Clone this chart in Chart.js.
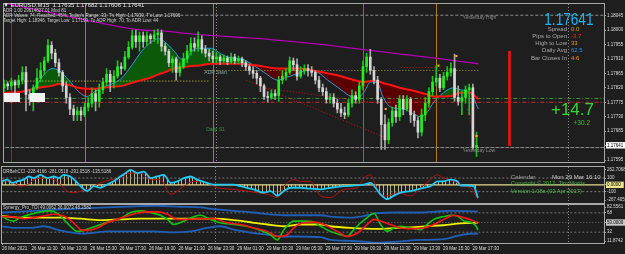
<!DOCTYPE html>
<html>
<head>
<meta charset="utf-8">
<title>EURUSD M15</title>
<script src="https://cdn.jsdelivr.net/npm/chart.js@4.4.1/dist/chart.umd.min.js"></script>
<style>
  html, body { margin: 0; padding: 0; background: #1e1e1e; }
  #wrap { position: relative; width: 625px; height: 254px; overflow: hidden; font-family: 'Liberation Sans', Arial, sans-serif; }
  #wrap canvas { position: absolute; left: 0; }
  .t { position: absolute; white-space: nowrap; line-height: 1; }
  .lab { font-size: 6px; color: #a8a8a8; }
  .val { font-size: 6px; left: 571px; }
  .box { position: absolute; background: #f2f2f2; }
</style>
</head>
<body>
<div id="wrap">
  <canvas id="main" width="625" height="166" style="top:0"></canvas>
  <canvas id="cci" width="625" height="38" style="top:166px"></canvas>
  <canvas id="syn" width="625" height="50" style="top:204px"></canvas>

  <div class="box" style="left:4px;top:93px;width:16px;height:9px"></div>
  <div class="box" style="left:30px;top:93px;width:15px;height:9px"></div>

  <div class="t" style="left:3px;top:2px;font-size:6px;color:#e6e6e6">▼ EURUSD,M15&nbsp; 1.17635 1.17682 1.17606 1.17641</div>
  <div class="t" style="left:3px;top:8.5px;font-size:4.5px;color:#d0d0d0">ADR 1.00 29614827.01 Mod 81</div>
  <div class="t" style="left:3px;top:13.5px;font-size:4.5px;color:#d0d0d0">ADR Values: 74, Reached: 45%, Today's Range: 33, T's High: 1.17939, T's Low: 1.17606</div>
  <div class="t" style="left:3px;top:19px;font-size:4.5px;color:#d0d0d0">Target High: 1.18346, Target Low: 1.17199, To ADR High: 70, To ADR Low: 44</div>

  <div class="t" style="right:32px;top:11px;font-size:17px;color:#1fb4f0;transform:scaleX(0.8);transform-origin:right">1.17641</div>
  <div class="t lab" style="right:58px;top:25.7px">Spread</div>
  <div class="t val" style="top:25.7px;color:#d9a21b">0.0</div>
  <div class="t lab" style="right:58px;top:32.7px">Pips to Open</div>
  <div class="t val" style="top:32.7px;color:#ff2a2a">-3.7</div>
  <div class="t lab" style="right:58px;top:40px">High to Low</div>
  <div class="t val" style="top:40px;color:#d9a21b">33</div>
  <div class="t lab" style="right:58px;top:47.4px">Daily Avg</div>
  <div class="t val" style="top:47.4px;color:#1e90ff">62.5</div>
  <div class="t lab" style="right:58px;top:55px">Bar Closes In</div>
  <div class="t val" style="top:55px;color:#ff8c00">4:6</div>
  <div class="t" style="right:31px;top:101px;font-size:17px;color:#37d437">+14.7</div>
  <div class="t" style="right:35px;top:119.5px;font-size:6.5px;color:#37c437">+30.2</div>

  <div class="t" style="left:3px;top:169.5px;font-size:4.5px;color:#cfcfcf">DRBehCCI -228.4166 -281.0518 -291.0518 -135.5186</div>
  <div class="t" style="left:511px;top:173.7px;font-size:6px;color:#a0a0a0">Calendar</div>
  <div class="t" style="left:552px;top:173.7px;font-size:6px;color:#c8c8c8">Mon 29 Mar 16:10</div>
  <div class="t" style="left:511px;top:181.2px;font-size:5.7px;color:#4cb84c">Copyright © 2012, Tim Morris</div>
  <div class="t" style="left:511px;top:188.8px;font-size:5.7px;color:#4cb84c">Version 1.08a (02 Apr 2017)</div>
  <div class="t" style="left:3px;top:206.3px;font-size:4.5px;color:#cfcfcf">Synergy_Pro_TDI 49.0062 36.0073 48.2582</div>
</div>

<script>
// EURUSD M15, bar 0 = 26 Mar 09:30, bar 58 = 29 Mar 00:00
const opens = [
  1.17820, 1.17832, 1.17826, 1.17838, 1.17829, 1.17844, 1.17868, 1.17799, 1.17784, 1.17820,
  1.17850, 1.17874, 1.17904, 1.17952, 1.17928, 1.17898, 1.17868, 1.17826, 1.17790, 1.17754,
  1.17736, 1.17748, 1.17736, 1.17760, 1.17772, 1.17802, 1.17778, 1.17814, 1.17838, 1.17862,
  1.17838, 1.17856, 1.17886, 1.17880, 1.17916, 1.17946, 1.17982, 1.17964, 1.17982, 1.17964,
  1.17982, 1.17973, 1.17985, 1.17991, 1.17949, 1.17934, 1.17898, 1.17910, 1.17868, 1.17886,
  1.17910, 1.17934, 1.17958, 1.17946, 1.17970, 1.17940, 1.17928, 1.17919, 1.17910, 1.17916,
  1.17904, 1.17913, 1.17901, 1.17916, 1.17904, 1.17910, 1.17898, 1.17886, 1.17874, 1.17865,
  1.17850, 1.17826, 1.17793, 1.17790, 1.17802, 1.17796, 1.17844, 1.17856, 1.17868, 1.17904,
  1.17892, 1.17856, 1.17874, 1.17880, 1.17874, 1.17868, 1.17844, 1.17820, 1.17808, 1.17784,
  1.17790, 1.17772, 1.17754, 1.17742, 1.17736, 1.17772, 1.17796, 1.17784, 1.17826, 1.17886,
  1.17916, 1.17874, 1.17844, 1.17784, 1.17706, 1.17658, 1.17712, 1.17748, 1.17730, 1.17784,
  1.17754, 1.17784, 1.17736, 1.17718, 1.17682, 1.17736, 1.17772, 1.17808, 1.17838, 1.17850,
  1.17820, 1.17856, 1.17868, 1.17880, 1.17790, 1.17778, 1.17790, 1.17814, 1.17820, 1.17635
];
const highs = [
  1.17844, 1.17838, 1.17850, 1.17844, 1.17859, 1.17886, 1.17886, 1.17814, 1.17829, 1.17880,
  1.17898, 1.17916, 1.17970, 1.17964, 1.17940, 1.17910, 1.17874, 1.17838, 1.17802, 1.17766,
  1.17760, 1.17760, 1.17772, 1.17790, 1.17820, 1.17814, 1.17832, 1.17850, 1.17880, 1.17874,
  1.17874, 1.17904, 1.17898, 1.17934, 1.17964, 1.18000, 1.18000, 1.17994, 1.17994, 1.17994,
  1.17988, 1.18000, 1.18003, 1.18000, 1.17958, 1.17940, 1.17919, 1.17916, 1.17898, 1.17928,
  1.17952, 1.17976, 1.17976, 1.17994, 1.17982, 1.17952, 1.17940, 1.17934, 1.17928, 1.17922,
  1.17922, 1.17919, 1.17928, 1.17925, 1.17919, 1.17916, 1.17904, 1.17892, 1.17886, 1.17874,
  1.17856, 1.17832, 1.17808, 1.17814, 1.17814, 1.17856, 1.17874, 1.17880, 1.17916, 1.17913,
  1.17910, 1.17886, 1.17892, 1.17892, 1.17886, 1.17874, 1.17856, 1.17832, 1.17820, 1.17802,
  1.17802, 1.17784, 1.17772, 1.17760, 1.17784, 1.17814, 1.17808, 1.17838, 1.17904, 1.17928,
  1.17940, 1.17886, 1.17856, 1.17790, 1.17736, 1.17724, 1.17760, 1.17766, 1.17796, 1.17796,
  1.17796, 1.17790, 1.17748, 1.17730, 1.17754, 1.17790, 1.17820, 1.17856, 1.17889, 1.17862,
  1.17868, 1.17886, 1.17898, 1.17925, 1.17826, 1.17808, 1.17826, 1.17832, 1.17832, 1.17682
];
const lows = [
  1.17808, 1.17814, 1.17814, 1.17799, 1.17820, 1.17832, 1.17748, 1.17766, 1.17748, 1.17814,
  1.17838, 1.17862, 1.17898, 1.17910, 1.17886, 1.17856, 1.17808, 1.17772, 1.17736, 1.17718,
  1.17718, 1.17718, 1.17730, 1.17748, 1.17760, 1.17748, 1.17760, 1.17802, 1.17826, 1.17808,
  1.17820, 1.17850, 1.17862, 1.17874, 1.17910, 1.17940, 1.17946, 1.17934, 1.17946, 1.17952,
  1.17958, 1.17964, 1.17958, 1.17934, 1.17922, 1.17886, 1.17868, 1.17844, 1.17856, 1.17880,
  1.17898, 1.17922, 1.17934, 1.17934, 1.17928, 1.17916, 1.17904, 1.17898, 1.17898, 1.17892,
  1.17898, 1.17892, 1.17895, 1.17895, 1.17895, 1.17886, 1.17874, 1.17862, 1.17850, 1.17832,
  1.17808, 1.17784, 1.17775, 1.17784, 1.17784, 1.17778, 1.17832, 1.17844, 1.17862, 1.17874,
  1.17844, 1.17850, 1.17862, 1.17856, 1.17856, 1.17832, 1.17808, 1.17796, 1.17772, 1.17772,
  1.17760, 1.17742, 1.17730, 1.17724, 1.17730, 1.17760, 1.17772, 1.17772, 1.17814, 1.17868,
  1.17862, 1.17832, 1.17772, 1.17628, 1.17628, 1.17646, 1.17700, 1.17712, 1.17718, 1.17736,
  1.17748, 1.17712, 1.17700, 1.17664, 1.17670, 1.17718, 1.17760, 1.17796, 1.17826, 1.17808,
  1.17814, 1.17844, 1.17856, 1.17778, 1.17766, 1.17736, 1.17772, 1.17736, 1.17628, 1.17606
];
const closes = [
  1.17832, 1.17826, 1.17838, 1.17829, 1.17844, 1.17868, 1.17799, 1.17784, 1.17820, 1.17850,
  1.17874, 1.17904, 1.17952, 1.17928, 1.17898, 1.17868, 1.17826, 1.17790, 1.17754, 1.17736,
  1.17748, 1.17736, 1.17760, 1.17772, 1.17802, 1.17778, 1.17814, 1.17838, 1.17862, 1.17838,
  1.17856, 1.17886, 1.17880, 1.17916, 1.17946, 1.17982, 1.17964, 1.17982, 1.17964, 1.17982,
  1.17973, 1.17985, 1.17991, 1.17949, 1.17934, 1.17898, 1.17910, 1.17868, 1.17886, 1.17910,
  1.17934, 1.17958, 1.17946, 1.17970, 1.17940, 1.17928, 1.17919, 1.17910, 1.17916, 1.17904,
  1.17913, 1.17901, 1.17916, 1.17904, 1.17910, 1.17898, 1.17886, 1.17874, 1.17865, 1.17850,
  1.17826, 1.17793, 1.17790, 1.17802, 1.17796, 1.17844, 1.17856, 1.17868, 1.17904, 1.17892,
  1.17856, 1.17874, 1.17880, 1.17874, 1.17868, 1.17844, 1.17820, 1.17808, 1.17784, 1.17790,
  1.17772, 1.17754, 1.17742, 1.17736, 1.17772, 1.17796, 1.17784, 1.17826, 1.17886, 1.17916,
  1.17874, 1.17844, 1.17784, 1.17706, 1.17658, 1.17712, 1.17748, 1.17730, 1.17784, 1.17754,
  1.17784, 1.17736, 1.17718, 1.17682, 1.17736, 1.17772, 1.17808, 1.17838, 1.17850, 1.17820,
  1.17856, 1.17868, 1.17880, 1.17790, 1.17778, 1.17790, 1.17814, 1.17820, 1.17635, 1.17641
];

const timeTickBars = [0, 8, 16, 24, 32, 40, 48, 56, 64, 72, 80, 88, 96, 104, 112, 120, 128];
const timeLabels = ['26 Mar 2021', '26 Mar 11:30', '26 Mar 13:30', '26 Mar 15:30', '26 Mar 17:30',
  '26 Mar 19:30', '26 Mar 21:30', '26 Mar 23:30', '29 Mar 01:30', '29 Mar 03:30', '29 Mar 05:30',
  '29 Mar 07:30', '29 Mar 09:30', '29 Mar 11:30', '29 Mar 13:30', '29 Mar 15:30', '29 Mar 17:30'];
const priceTicks = [1.18045, 1.18000, 1.17955, 1.17910, 1.17865, 1.17820, 1.17775, 1.17730, 1.17685, 1.17641, 1.17595];
const lastPriceTick = 9;

// moving averages (sampled along the bars)
const maBars = [0, 4.9, 8.2, 11.2, 13.1, 15.0, 17.7, 20.4, 22.6, 24.8,
  26.7, 29.4, 32.1, 34.8, 37.6, 40.3, 42.2, 43.8, 46.5, 48.4,
  49.8, 51.2, 53.1, 56.6, 59.3, 62.0, 64.8, 67.5, 71.0, 74.8,
  76.5, 80.3, 83.0, 85.7, 88.4, 92.0, 94.7, 96.6, 98.2, 100.1,
  102.0, 103.4, 105.6, 109.1, 111.8, 113.7, 115.6, 117.3, 120.0, 122.7,
  124.6, 127.3, 129.5];
const maFast = [1.17802, 1.17808, 1.17820, 1.17865, 1.17880, 1.17874, 1.17844, 1.17808, 1.17793, 1.17808,
  1.17820, 1.17832, 1.17850, 1.17889, 1.17934, 1.17964, 1.17973, 1.17964, 1.17934, 1.17910,
  1.17910, 1.17934, 1.17943, 1.17943, 1.17925, 1.17913, 1.17910, 1.17895, 1.17868, 1.17844,
  1.17850, 1.17865, 1.17874, 1.17868, 1.17844, 1.17814, 1.17793, 1.17790, 1.17805, 1.17838,
  1.17835, 1.17793, 1.17760, 1.17754, 1.17739, 1.17730, 1.17745, 1.17775, 1.17805, 1.17820,
  1.17814, 1.17805, 1.17754];
const maSlow = [1.17805, 1.17808, 1.17817, 1.17823, 1.17826, 1.17832, 1.17829, 1.17820, 1.17817, 1.17817,
  1.17820, 1.17823, 1.17826, 1.17835, 1.17844, 1.17853, 1.17862, 1.17868, 1.17880, 1.17883,
  1.17886, 1.17888, 1.17889, 1.17895, 1.17895, 1.17895, 1.17895, 1.17892, 1.17886, 1.17880,
  1.17880, 1.17880, 1.17877, 1.17871, 1.17865, 1.17856, 1.17847, 1.17841, 1.17838, 1.17841,
  1.17841, 1.17835, 1.17829, 1.17817, 1.17811, 1.17805, 1.17799, 1.17793, 1.17793, 1.17796,
  1.17805, 1.17805, 1.17784];
const maLongBars = [0, 16.6, 26.7, 37.6, 43.0, 51.2, 62.0, 72.9, 86.5, 97.4, 108.3, 119.2, 129.5];
const maLong = [1.18084, 1.18045, 1.18021, 1.18000, 1.17997, 1.17988, 1.17979, 1.17970, 1.17955, 1.17940, 1.17925, 1.17910, 1.17895];

// levels
const yesterdayHigh = 1.18046;
const yesterdayLow = 1.17634;
const pivotUpper = 1.17787;
const pivotLower = 1.17775;
const prevAdrLevel = 1.17841;
const adrStartLevel = 1.17874;
const sessionBars = [2, 22, 57, 98, 118];
const daySeparatorBars = [58, 154];
const adrRange = { bar: 138, low: 1.17640, high: 1.17934 };
const trendLines = [
  [66.1, 1.17844, 104.2, 1.17664],
  [70.7, 1.17820, 102.3, 1.17772],
  [126.5, 1.17754, 129.0, 1.17643],
  [108.3, 1.17883, 119.2, 1.17883]
];
const markerBars = [104.2, 118.6, 123.5, 129.0];
const markerPrices = [1.17754, 1.17889, 1.17919, 1.17670];
const noteTexts = ['Yesterday High', 'Yesterday Low', 'ADR Start', 'Daily S1'];
const noteBars = [125.2, 125.2, 54.7, 55.2];
const notePrices = [1.18039, 1.17625, 1.17868, 1.17691];

// CCI window
const cciFastBars = [0, 1.4, 2.8, 4.1, 5.9, 7.3, 8.7, 10.5, 12.3, 14.1,
  15.5, 16.8, 18.6, 20.5, 21.8, 23.2, 25, 26.8, 28.6, 30.4,
  32.2, 33.6, 35, 36.8, 38.6, 40.4, 42.2, 44, 45.9, 47.7,
  49.5, 51.3, 53.1, 55.8, 57.6, 59.5, 63.1, 64.9, 68.5, 71.2,
  73.1, 74.9, 76.7, 78.5, 81.2, 83.9, 86.7, 89.4, 92.9, 95.6,
  98.4, 100.3, 101.6, 103, 104.9, 106.5, 108.4, 111.2, 113.1, 114.7,
  116.6, 118.5, 120.1, 122, 123.9, 124.8, 126.7, 128.3, 129.5];
const cciFast = [52, 76, 29, 52, 76, 123, 100, 148, 100, 123,
  100, 148, 123, 29, -43, -92, -20, -43, 4, 52,
  123, 172, 219, 172, 195, 100, 123, 148, 29, 52,
  100, 123, 76, 29, 4, 4, 4, -20, -67, -115,
  -92, -163, -92, -43, -43, -57, -67, -43, -20, -10,
  4, 29, -43, -139, -211, -163, -115, -92, -67, -43,
  -20, 52, 52, 76, 52, -10, -10, -20, -190];
const cciSlowBars = [0, 1.4, 3.2, 5, 6.9, 8.7, 11.4, 14.1, 15.9, 17.7,
  19.5, 21.4, 23.2, 25, 26.8, 29.5, 32.2, 35, 37.7, 40.4,
  43.1, 45.9, 49.5, 52.2, 55.8, 58.6, 63.1, 66.7, 69.4, 72.2,
  74.9, 76.7, 79.4, 81.2, 83.9, 86.7, 89.4, 93, 96.7, 98.5,
  100.3, 101.6, 103, 104.8, 107.5, 111.2, 113.9, 116.6, 118.4, 120.2,
  122, 123.9, 125.7, 127.5, 128.9, 129.5];
const cciSlow = [76, 52, 29, -20, 4, 76, 100, 76, 4, -92,
  -115, -92, -67, -20, 29, 76, 100, 172, 172, 76,
  76, -139, -20, 52, 29, -43, -67, -92, -115, -139,
  -186, -20, 76, 52, 52, -163, -186, -67, -43, 100,
  148, 4, -163, -163, -115, -163, -43, 76, 148, 100,
  76, 29, -20, -43, -163, -211];
const cciTickValues = [262.7068, 100, 0, -100, -267.4057];
const cciTickLabels = ['262.7068', '100', '0.0000', '-100', '-267.4057'];

// Synergy TDI window
const rsiBars = [0, 1.4, 3.2, 5, 7.8, 10.5, 13.2, 15, 16.8, 18.6,
  20.5, 22.3, 24.1, 26.8, 29.5, 32.2, 35, 37.7, 40.4, 43.1,
  45, 46.7, 49.5, 52.3, 54, 56.7, 59.5, 63.1, 66.7, 70.3,
  73.1, 74.9, 76.7, 79.4, 82.1, 84.8, 86.7, 89.4, 92.1, 93.9,
  95.7, 97.6, 99.4, 101.2, 103, 104.8, 106.6, 108.4, 111.2, 113.9,
  115.7, 117.5, 120.2, 122, 123.9, 125.7, 127.5, 129, 129.5];
const rsiLine = [62.1, 55.8, 52.6, 59.1, 65.4, 69.8, 71.7, 67.3, 55.8, 43.0,
  33.5, 35.4, 39.9, 46.3, 52.6, 57.1, 68.6, 71.7, 68.6, 63.5,
  55.8, 46.3, 52.6, 61.0, 63.5, 55.8, 49.5, 46.3, 43.0, 35.4,
  27.2, 17.6, 36.7, 52.6, 52.6, 50.7, 43.0, 33.5, 27.2, 24.0,
  36.7, 49.5, 59.1, 67.3, 46.3, 33.5, 39.9, 43.0, 39.9, 36.7,
  46.3, 55.8, 61.0, 63.5, 62.1, 52.6, 50.7, 43.0, 36.0];
const signalBars = [0, 2.3, 6, 8.7, 11.4, 14.1, 16.8, 19.5, 21.4, 23.2,
  25.9, 28.6, 31.3, 34.1, 36.8, 39.5, 42.2, 45, 47.7, 50.4,
  54, 57.6, 61.3, 64.9, 68.5, 72.2, 74.9, 77.6, 79.4, 82.1,
  84.8, 87.6, 91.2, 93.9, 96.7, 99.4, 101.2, 103, 105.7, 108.4,
  111.2, 114.8, 117.5, 120.2, 122.9, 125.7, 128.4, 129.5];
const signalLine = [61.0, 61.0, 57.1, 59.1, 62.1, 65.4, 62.1, 49.5, 36.7, 35.4,
  39.9, 49.5, 55.8, 62.1, 67.3, 69.8, 69.8, 65.4, 55.8, 55.8,
  57.1, 57.1, 49.5, 46.3, 39.9, 33.5, 24.0, 27.2, 39.9, 49.5,
  50.7, 46.3, 33.5, 24.0, 30.4, 46.3, 55.8, 52.6, 46.3, 39.9,
  38.6, 39.9, 46.3, 55.8, 63.5, 59.1, 52.6, 48.3];
const baseBars = [0, 5, 10.5, 15.9, 21.4, 26.8, 32.2, 37.7, 43.1, 48.6,
  54, 57.6, 63.1, 68.5, 72.2, 76.7, 81.2, 86.7, 89.4, 94.8,
  102.1, 107.5, 111.2, 115.7, 120.2, 124.8, 129.5];
const baseLine = [62.1, 59.1, 59.1, 59.1, 57.1, 54.5, 55.8, 57.1, 57.1, 57.1,
  57.1, 57.1, 54.5, 49.5, 46.3, 43.0, 46.3, 46.3, 43.0, 39.9,
  38.0, 39.9, 41.1, 43.0, 44.9, 48.2, 49.5];
const upperBars = [0, 8.7, 17.7, 28.6, 35.9, 42.2, 48.6, 54, 57.6, 63.1,
  68.5, 72.2, 76.7, 86.7, 89.4, 94.8, 98.5, 102.1, 107.5, 113.9,
  118.4, 122, 129.5];
const upperBand = [68.6, 71.7, 74.9, 78.2, 80.1, 81.2, 79.3, 78.2, 74.9, 71.7,
  68.6, 65.4, 63.5, 63.5, 61.0, 59.1, 62.1, 67.3, 68.6, 68.6,
  70.5, 71.7, 70.5];
const lowerBars = [0, 3.2, 7.8, 11.4, 15, 18.6, 22.3, 25.9, 28.6, 35.9,
  41.3, 46.7, 51.3, 55.8, 59.5, 63.1, 68.5, 72.2, 75.8, 79.4,
  86.7, 89.4, 94.8, 98.5, 102.1, 107.5, 113.9, 120.2, 123.9, 127.5,
  129.5];
const lowerBand = [43.0, 39.9, 39.9, 43.0, 36.7, 31.6, 29.1, 31.6, 33.5, 33.5,
  33.5, 31.6, 33.5, 39.9, 43.0, 36.7, 30.4, 27.2, 24.0, 24.0,
  22.7, 17.6, 15.7, 14.4, 12.5, 14.4, 17.6, 18.9, 25.3, 29.1,
  29.1];
const synTickValues = [82.5561, 68, 50, 32, 11.8742];
const synTickLabels = ['82.5561', '68', '50.0000', '32', '11.8742'];

// ---------------------------------------------------------------
const X_MIN = 0, X_MAX = 163.8;
const PRICE_MIN = 1.17589, PRICE_MAX = 1.18081;
const CCI_MIN = -267.4057, CCI_MAX = 262.7068;
const SYN_MIN = 11.8742, SYN_MAX = 82.5561;
const BULL = '#22ee22', BEAR = '#d6d6d6';
const SESSION_COLORS = ['#8b2e12', '#b07a10', '#b07a10', '#c05020', '#b07a10'];
const NOTE_COLORS = ['#8c8c8c', '#8c8c8c', '#8aa0a0', '#3a9a3a'];
const TEXT = '#dcdcdc';

Chart.defaults.font.family = "'Liberation Sans', Arial, sans-serif";

const separators = daySeparatorBars.map(b => ({ bar: b, color: '#8a8a8a', dash: [1, 2] }));
const decorConfig = {
  main: {
    vlines: sessionBars.map((b, i) => ({ bar: b, color: SESSION_COLORS[i], dash: [] })).concat(separators),
    notes: noteTexts.map((t, i) => ({ text: t, bar: noteBars[i], value: notePrices[i], color: NOTE_COLORS[i] }))
  },
  cci: { vlines: separators, notes: [] },
  syn: { vlines: separators, notes: [] }
};

// vertical session/day lines under the data, small notes and the frame on top
const decor = {
  id: 'decor',
  beforeDatasetsDraw(chart) {
    const cfg = decorConfig[chart.canvas.id];
    const { ctx, chartArea: a, scales: { x } } = chart;
    ctx.save();
    ctx.beginPath(); ctx.rect(a.left, a.top, a.width, a.height); ctx.clip();
    ctx.lineWidth = 1;
    cfg.vlines.forEach(v => {
      const px = Math.round(x.getPixelForValue(v.bar)) + 0.5;
      ctx.strokeStyle = v.color; ctx.setLineDash(v.dash);
      ctx.beginPath(); ctx.moveTo(px, a.top); ctx.lineTo(px, a.bottom); ctx.stroke();
    });
    ctx.restore();
  },
  afterDraw(chart) {
    const cfg = decorConfig[chart.canvas.id];
    const { ctx, chartArea: a, scales: { x, y } } = chart;
    ctx.save();
    ctx.font = "5px 'Liberation Sans'";
    ctx.textBaseline = 'middle'; ctx.textAlign = 'left';
    cfg.notes.forEach(n => {
      ctx.fillStyle = n.color;
      ctx.fillText(n.text, x.getPixelForValue(n.bar), y.getPixelForValue(n.value));
    });
    ctx.strokeStyle = '#a8a8a8'; ctx.lineWidth = 1; ctx.setLineDash([]);
    ctx.strokeRect(a.left - 0.5, a.top - 0.5, a.right - a.left + 1, a.bottom - a.top + 1);
    ctx.restore();
  }
};
Chart.register(decor);

function pts(xs, ys) { return xs.map((x, i) => ({ x, y: ys[i] })); }
function line(xs, ys, color, width, extra) {
  return Object.assign({ type: 'line', data: pts(xs, ys), borderColor: color, borderWidth: width,
    pointRadius: 0, cubicInterpolationMode: 'monotone', fill: false, order: 2 }, extra || {});
}
function level(value, from, to, color, dash, width) {
  return { type: 'line', data: [{ x: from, y: value }, { x: to, y: value }], borderColor: color,
    borderWidth: width || 1, borderDash: dash, pointRadius: 0, fill: false, order: 4 };
}

function xHidden() {
  return { type: 'linear', min: X_MIN, max: X_MAX, display: false, offset: false };
}
function yRight(min, max, values, labels, hiIndex, hiBg, nudge) {
  return {
    position: 'right', min, max, beginAtZero: false,
    grid: { drawOnChartArea: false, drawTicks: true, tickLength: 2, color: '#9a9a9a' },
    border: { display: false },
    ticks: {
      font: { size: 4.5 }, padding: 1, autoSkip: false,
      color: c => c.index === hiIndex ? '#000000' : TEXT,
      showLabelBackdrop: c => c.index === hiIndex,
      backdropColor: hiBg,
      backdropPadding: { top: 0.5, bottom: 0.5, left: 1, right: 3 },
      callback: (v, i) => labels[i]
    },
    afterBuildTicks: s => {
      s.ticks = values.map(v => ({ value: Math.min(Math.max(v, min + nudge), max - nudge) }));
    },
    afterFit: s => { s.width = 21; s.paddingTop = 0; s.paddingBottom = 0; }
  };
}
function baseOptions(padTop, padBottom, scales) {
  return {
    responsive: false, animation: false, events: [],
    layout: { padding: { left: 2, right: 0, top: padTop, bottom: padBottom } },
    plugins: { legend: { display: false }, tooltip: { enabled: false }, filler: { drawTime: 'beforeDatasetsDraw' } },
    scales
  };
}

// ---------- main price window ----------
new Chart(document.getElementById('main'), {
  type: 'bar',
  data: {
    datasets: [
      { type: 'bar', order: 0, grouped: false, barThickness: 2, minBarLength: 1, borderWidth: 0,
        data: opens.map((o, i) => ({ x: i, y: [o, closes[i]] })),
        backgroundColor: opens.map((o, i) => closes[i] >= o ? BULL : BEAR) },
      { type: 'bar', order: 1, grouped: false, barThickness: 1, borderWidth: 0,
        data: lows.map((l, i) => ({ x: i, y: [l, highs[i]] })),
        backgroundColor: opens.map((o, i) => closes[i] >= o ? '#1fbf1f' : '#a8a8a8') },
      { type: 'bar', order: 1, grouped: false, barThickness: 2, borderWidth: 0,
        data: [{ x: adrRange.bar, y: [adrRange.low, adrRange.high] }], backgroundColor: '#ee1111' },
      { type: 'line', order: 0, showLine: false, data: pts(markerBars, markerPrices),
        pointStyle: 'rect', pointRadius: 1.5, pointBackgroundColor: '#ffb000', pointBorderWidth: 0 },
      line(maBars, maSlow, '#ff1414', 2),
      line(maBars, maFast, '#2a9fd6', 1, { fill: { target: '-1', above: '#0a5a0a', below: '#5a0000' } }),
      line(maLongBars, maLong, '#b000b0', 1.3),
      level(yesterdayHigh, -1, 170, '#8c8c8c', [3, 2]),
      level(yesterdayLow, -1, 170, '#8c8c8c', [4, 1]),
      level(pivotUpper, -1, 170, '#3c9c3c', [4, 2, 1, 2]),
      level(pivotLower, -1, 170, '#c83232', [4, 2, 1, 2]),
      level(prevAdrLevel, -1, 56.3, '#d8d820', [1, 2]),
      level(adrStartLevel, 54.7, 129.5, '#a0a020', [1, 2]),
      ...trendLines.map(t => ({ type: 'line', order: 3, data: [{ x: t[0], y: t[1] }, { x: t[2], y: t[3] }],
        borderColor: '#c01818', borderWidth: 1, borderDash: [1, 2], pointRadius: 0, fill: false }))
    ]
  },
  options: baseOptions(1, 1, {
    x: xHidden(),
    y: yRight(PRICE_MIN, PRICE_MAX, priceTicks, priceTicks.map(v => v.toFixed(5)), lastPriceTick, '#ffffff', 0)
  })
});

// ---------- CCI window ----------
function hatch(color) {
  const c = document.createElement('canvas'); c.width = 11; c.height = 2;
  const g = c.getContext('2d'); g.fillStyle = color;
  [2, 5, 9].forEach(x => g.fillRect(x, 0, 1, 2));
  return g.createPattern(c, 'repeat');
}
new Chart(document.getElementById('cci'), {
  type: 'line',
  data: {
    datasets: [
      line(cciFastBars, cciFast, '#22c8f5', 1.8, { order: 0, fill: { value: 0 }, backgroundColor: hatch('rgba(214,204,150,0.85)') }),
      line(cciSlowBars, cciSlow, '#b41414', 1, { order: 1 }),
      level(0, -1, 170, '#e6dc8c', [], 1.2),
      level(100, -1, 170, '#7a7a7a', [2, 2]),
      level(-100, -1, 170, '#7a7a7a', [2, 2])
    ]
  },
  options: baseOptions(1, 1, {
    x: xHidden(),
    y: yRight(CCI_MIN, CCI_MAX, cciTickValues, cciTickLabels, 2, '#f0e68c', (CCI_MAX - CCI_MIN) / 36 * 3)
  })
});

// ---------- Synergy TDI window ----------
new Chart(document.getElementById('syn'), {
  type: 'line',
  data: {
    datasets: [
      line(upperBars, upperBand, '#1f5fb8', 1.8, { order: 3 }),
      line(lowerBars, lowerBand, '#1f5fb8', 1.8, { order: 3 }),
      line(baseBars, baseLine, '#f0f000', 1.8, { order: 2 }),
      line(rsiBars, rsiLine, '#12c412', 1.6, { order: 1 }),
      line(signalBars, signalLine, '#ff1414', 1.6, { order: 0 }),
      level(68, -1, 170, '#707070', [2, 2]),
      level(50, -1, 170, '#707070', [1, 2]),
      level(32, -1, 170, '#707070', [2, 2])
    ]
  },
  options: baseOptions(1, 0, {
    x: {
      type: 'linear', min: X_MIN, max: X_MAX, offset: false, position: 'bottom',
      grid: { drawOnChartArea: false, drawTicks: true, tickLength: 2, color: '#9a9a9a' },
      border: { display: false },
      ticks: { color: TEXT, font: { size: 4.5 }, padding: 1, align: 'start', maxRotation: 0, autoSkip: false,
        callback: (v, i) => timeLabels[i] },
      afterBuildTicks: s => { s.ticks = timeTickBars.map(v => ({ value: v })); },
      afterFit: s => { s.height = 11; s.paddingLeft = 0; s.paddingRight = 0; }
    },
    y: yRight(SYN_MIN, SYN_MAX, synTickValues, synTickLabels, 2, '#c8c8c8', (SYN_MAX - SYN_MIN) / 38 * 2)
  })
});
</script>
</body>
</html>
